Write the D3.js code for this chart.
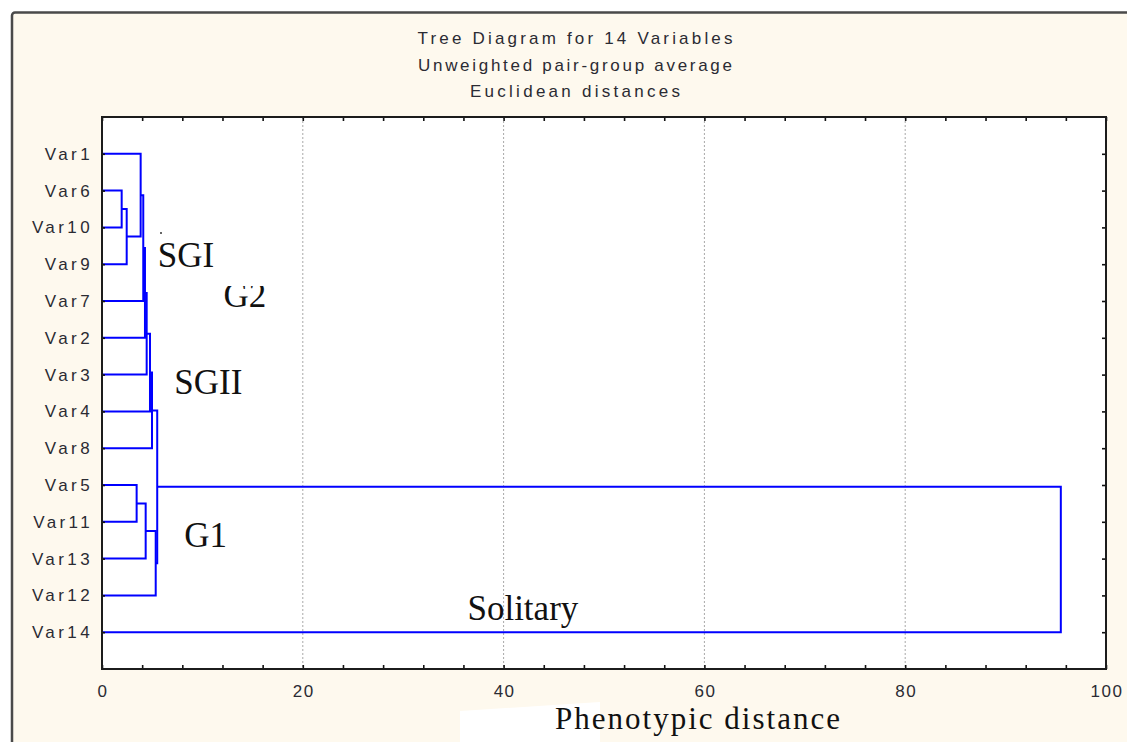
<!DOCTYPE html>
<html>
<head>
<meta charset="utf-8">
<script src="https://cdn.jsdelivr.net/npm/d3@7"></script>
<style>
  body { margin: 0; background: #fff; }
  svg { display: block; }
  .lbl { font-family: Arial, "Liberation Sans", sans-serif; fill: #2b2b33; }
  .ann { font-family: "Times New Roman", "Liberation Serif", serif; fill: #111; }
</style>
</head>
<body>
<div id="chart"></div>
<script>
// Leaf order (top to bottom) as drawn in the tree diagram.
const leaves = ["Var1", "Var6", "Var10", "Var9", "Var7", "Var2", "Var3", "Var4", "Var8",
                "Var5", "Var11", "Var13", "Var12", "Var14"];

// Linkage steps: cluster "m<i>" joins mergeA[i] and mergeB[i] at mergeDist[i].
const mergeA = ["Var6", "m0", "Var1", "m2", "m3", "m4", "m5", "m6", "Var5", "m8", "m9", "m7", "m11"];
const mergeB = ["Var10", "Var9", "m1", "Var7", "Var2", "Var3", "Var4", "Var8", "Var11", "Var13", "Var12", "m10", "Var14"];
const mergeDist = [1.96, 2.46, 3.85, 4.11, 4.28, 4.45, 4.78, 4.98, 3.45, 4.35, 5.35, 5.5, 95.5];

const xTicks = [0, 20, 40, 60, 80, 100];
const titleLines = ["Tree Diagram for 14  Variables", "Unweighted pair-group average", "Euclidean distances"];

// Free text placed on the plot (x in distance units, row in leaf steps).
const notes = [
  { text: "SGI", x: 5.55, row: 3.08 },
  { text: "G2", x: 12.1, row: 4.16 },
  { text: "SGII", x: 7.2, row: 6.53 },
  { text: "G1", x: 8.2, row: 10.68 },
  { text: "Solitary", x: 36.4, row: 12.67 }
];

const W = 1127, H = 742;
const plot = { left: 102, right: 1106, top: 117, bottom: 669 };

const svg = d3.select("#chart").append("svg")
    .attr("width", W)
    .attr("height", H);

// Outer frame.
svg.append("rect")
    .attr("x", 12).attr("y", 12.5)
    .attr("width", W + 20).attr("height", H + 20)
    .attr("rx", 3)
    .attr("fill", "#fef9ee")
    .attr("stroke", "#4a4a4a")
    .attr("stroke-width", 2.5);

const x = d3.scaleLinear().domain([0, 100]).range([plot.left, plot.right]);
const y = d3.scalePoint().domain(leaves).range([plot.top, plot.bottom]).padding(1);

// Plot background.
svg.append("rect")
    .attr("x", plot.left).attr("y", plot.top)
    .attr("width", plot.right - plot.left).attr("height", plot.bottom - plot.top)
    .attr("fill", "#fff");

// Dotted grid.
svg.append("g")
    .selectAll("line")
    .data(xTicks.slice(1, -1))
    .join("line")
      .attr("x1", d => x(d)).attr("x2", d => x(d))
      .attr("y1", plot.top).attr("y2", plot.bottom)
      .attr("stroke", "#a8a8a8")
      .attr("stroke-dasharray", "2,2");

// Build node positions from the linkage.
const pos = {};
leaves.forEach(d => { pos[d] = { x: x(0), y: y(d) }; });
const links = mergeA.map((a, i) => {
  const pa = pos[a], pb = pos[mergeB[i]];
  const m = { x: x(mergeDist[i]), y: (pa.y + pb.y) / 2 };
  pos["m" + i] = m;
  return { a: pa, b: pb, m: m };
});

svg.append("g")
    .selectAll("path")
    .data(links)
    .join("path")
      .attr("d", d => `M${d.a.x},${d.a.y}H${d.m.x}V${d.b.y}H${d.b.x}`)
      .attr("fill", "none")
      .attr("stroke", "#0000ff")
      .attr("stroke-width", 2);

// Ticks (inward) on all four sides.
const tickStyle = g => {
  g.select(".domain").remove();
  g.selectAll(".tick line").attr("stroke", "#111").attr("stroke-width", 1.6);
};
svg.append("g")
    .attr("transform", `translate(0,${plot.bottom})`)
    .call(d3.axisBottom(x).tickValues(d3.range(0, 101, 4)).tickSize(-4).tickFormat(""))
    .call(tickStyle);
svg.append("g")
    .attr("transform", `translate(0,${plot.top})`)
    .call(d3.axisTop(x).tickValues(d3.range(0, 101, 4)).tickSize(-4).tickFormat(""))
    .call(tickStyle);
svg.append("g")
    .attr("transform", `translate(${plot.right},0)`)
    .call(d3.axisRight(y).tickSize(-4).tickFormat(""))
    .call(tickStyle);
svg.append("g")
    .attr("transform", `translate(${plot.left},0)`)
    .call(d3.axisLeft(y).tickSize(-3).tickFormat(""))
    .call(tickStyle);

// Plot border.
svg.append("rect")
    .attr("x", plot.left).attr("y", plot.top)
    .attr("width", plot.right - plot.left).attr("height", plot.bottom - plot.top)
    .attr("fill", "none")
    .attr("stroke", "#1c1c1c")
    .attr("stroke-width", 2);

// X tick labels.
svg.append("g")
    .selectAll("text")
    .data(xTicks)
    .join("text")
      .attr("class", "lbl")
      .attr("x", d => x(d) + 1)
      .attr("y", 697)
      .attr("text-anchor", "middle")
      .attr("font-size", 17)
      .attr("letter-spacing", 1.5)
      .text(d => d);

// Leaf labels.
svg.append("g")
    .selectAll("text")
    .data(leaves)
    .join("text")
      .attr("class", "lbl")
      .attr("x", 93)
      .attr("y", d => y(d) + 6)
      .attr("text-anchor", "end")
      .attr("font-size", 17)
      .attr("letter-spacing", 3.4)
      .text(d => d);

// Title.
const titleWidths = [315, 314, 210];
svg.append("g")
    .selectAll("text")
    .data(titleLines)
    .join("text")
      .attr("class", "lbl")
      .attr("x", 575)
      .attr("y", (d, i) => 44 + i * 26.5)
      .attr("text-anchor", "middle")
      .attr("font-size", 17)
      .attr("textLength", (d, i) => titleWidths[i])
      .attr("lengthAdjust", "spacing")
      .text(d => d);

// Group annotations.
svg.append("g")
    .selectAll("text")
    .data(notes)
    .join("text")
      .attr("class", "ann")
      .attr("x", d => x(d.x))
      .attr("y", d => plot.top + (d.row + 1) * y.step())
      .attr("font-size", 35)
      .text(d => d.text);

// The "G2" label is cut at the top in the source.
svg.append("rect")
    .attr("x", 218).attr("y", 276).attr("width", 62).attr("height", 10)
    .attr("fill", "#fff");
svg.append("circle")
    .attr("cx", 161).attr("cy", 233).attr("r", 1)
    .attr("fill", "#333");

// X title on a white patch.
svg.append("path")
    .attr("d", "M460,711L600,702L600,742L460,742Z")
    .attr("fill", "#fff");
svg.append("text")
    .attr("class", "ann")
    .attr("x", 555)
    .attr("y", 729)
    .attr("font-size", 31)
    .attr("textLength", 285)
    .text("Phenotypic distance");
</script>
</body>
</html>
